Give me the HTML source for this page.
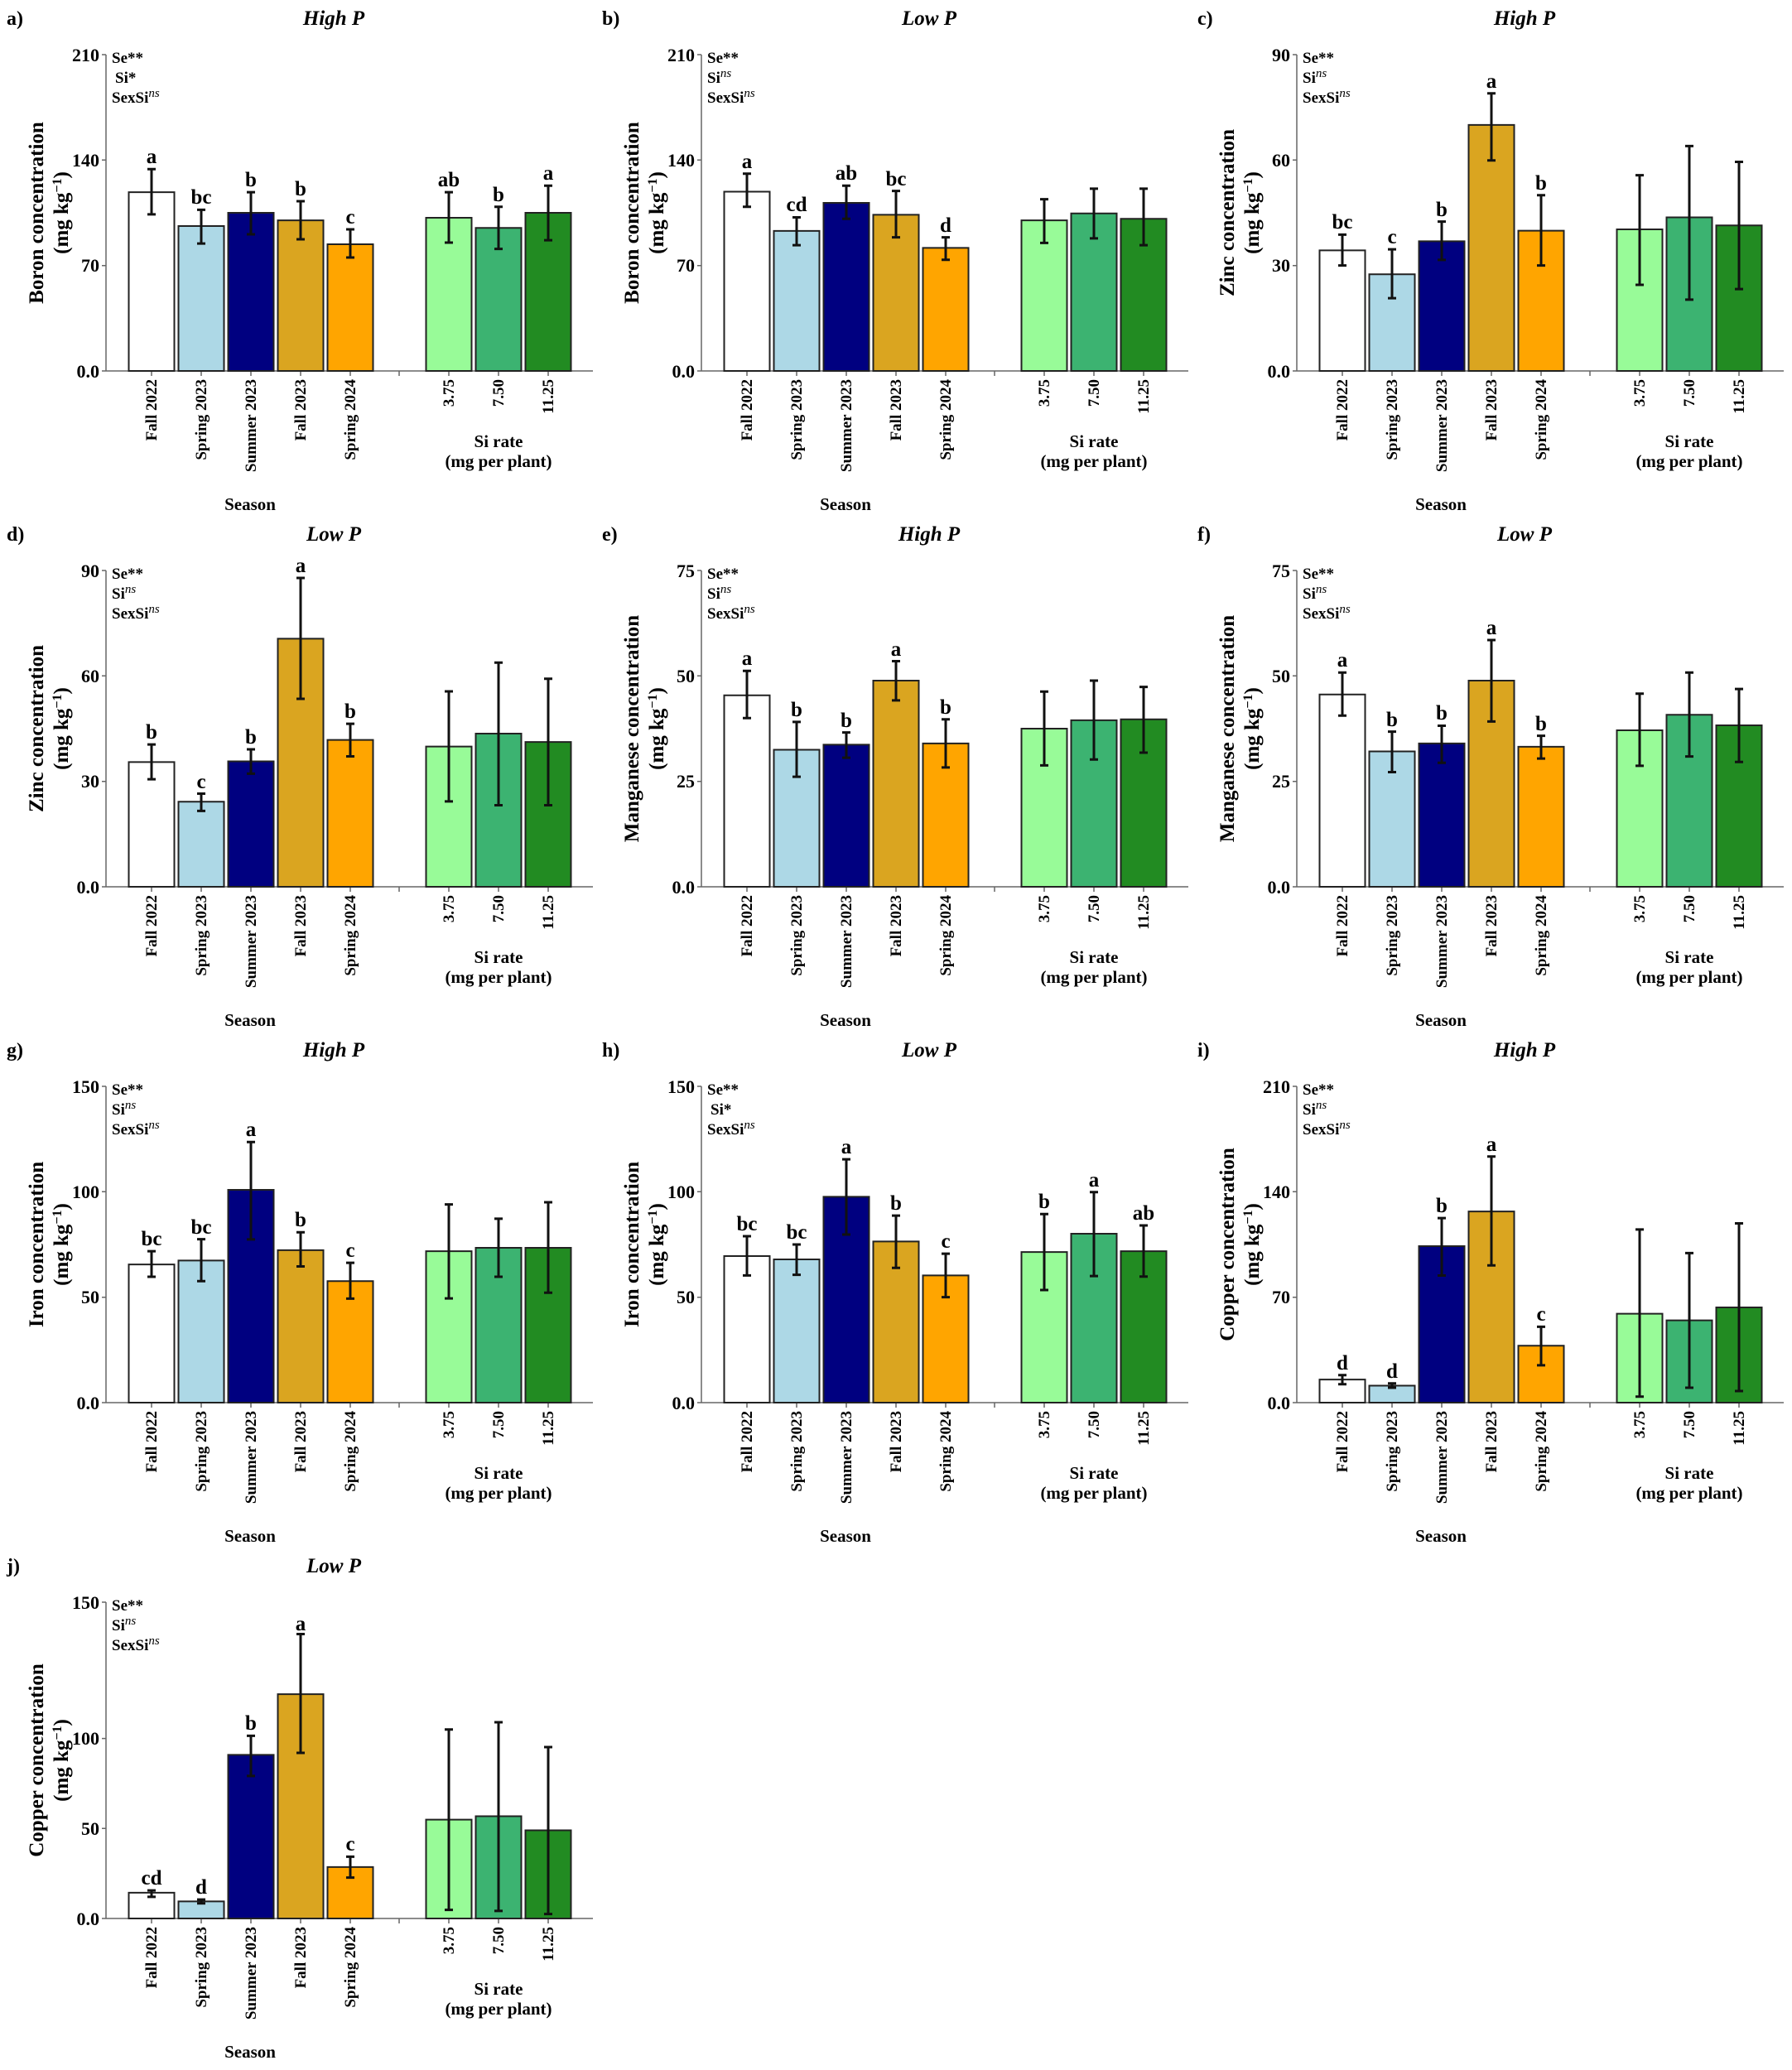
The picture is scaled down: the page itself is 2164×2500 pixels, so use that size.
<!DOCTYPE html>
<html><head><meta charset="utf-8"><style>
html,body{margin:0;padding:0;background:#fff;}
svg{display:block;}
text{font-family:"Liberation Serif",serif;font-weight:bold;fill:#000;}
.pl{font-size:24px;}
.tt{font-size:25px;font-style:italic;text-anchor:middle;}
.yt{font-size:22px;text-anchor:end;}
.xt{font-size:19px;text-anchor:end;}
.lb{font-size:21px;text-anchor:middle;}
.yl{font-size:25px;text-anchor:middle;}
.se{font-size:19px;}
.lt{font-size:25px;text-anchor:middle;}
.ax{stroke:#666;stroke-width:1.5;fill:none;}
.bar{stroke:#222;stroke-width:2;vector-effect:non-scaling-stroke;}
.eb{stroke:#111;stroke-width:3;vector-effect:non-scaling-stroke;fill:none;}
</style></head><body>
<svg width="2164" height="2500" viewBox="0 0 2164 2500" xmlns="http://www.w3.org/2000/svg">

<!-- ============ PANEL a ============ -->
<g transform="translate(0,0)">
<text x="8" y="30" class="pl">a)</text><text x="403" y="30" class="tt">High P</text>
<path class="ax" d="M128 66V448H716M123 66H128M123 193.3H128M123 320.7H128M123 448H128M183 448v6M243 448v6M303 448v6M363 448v6M423 448v6M482 448v6M542 448v6M602 448v6M662 448v6"/>
<text x="120" y="74" class="yt">210</text><text x="120" y="201" class="yt">140</text><text x="120" y="328" class="yt">70</text><text x="120" y="456" class="yt">0.0</text>
<text class="xt" transform="translate(189,458) rotate(-90)">Fall 2022</text><text class="xt" transform="translate(249,458) rotate(-90)">Spring 2023</text><text class="xt" transform="translate(309,458) rotate(-90)">Summer 2023</text><text class="xt" transform="translate(369,458) rotate(-90)">Fall 2023</text><text class="xt" transform="translate(429,458) rotate(-90)">Spring 2024</text><text class="xt" transform="translate(548,458) rotate(-90)">3.75</text><text class="xt" transform="translate(608,458) rotate(-90)">7.50</text><text class="xt" transform="translate(668,458) rotate(-90)">11.25</text>
<text x="602" y="540" class="lb">Si rate</text><text x="602" y="564" class="lb">(mg per plant)</text><text x="302" y="616" class="lb">Season</text>
<text class="yl" transform="translate(52,257) rotate(-90)">Boron concentration</text><text class="yl" transform="translate(82,257) rotate(-90)">(mg kg<tspan dy="-8" font-size="16">−1</tspan><tspan dy="8">)</tspan></text>
<text x="135" y="76" class="se">Se**</text><text x="139" y="100" class="se">Si*</text><text x="135" y="124" class="se">SexSi<tspan font-style="italic" font-weight="normal" font-size="15" dy="-7">ns</tspan></text>
<g transform="translate(0,448) scale(1,-1.819)">
<rect class="bar" x="155.5" y="0" width="55" height="118.7" fill="#ffffff"/><rect class="bar" x="215.5" y="0" width="55" height="96.2" fill="#add8e6"/><rect class="bar" x="275.5" y="0" width="55" height="105" fill="#000080"/><rect class="bar" x="335.5" y="0" width="55" height="100" fill="#daa520"/><rect class="bar" x="395.5" y="0" width="55" height="84.1" fill="#ffa500"/><rect class="bar" x="514.5" y="0" width="55" height="101.7" fill="#98fb98"/><rect class="bar" x="574.5" y="0" width="55" height="95" fill="#3cb371"/><rect class="bar" x="634.5" y="0" width="55" height="105" fill="#228b22"/>
<path class="eb" d="M183 104V134M178 104H188M178 134H188M243 84.6V107M238 84.6H248M238 107H248M303 90.7V118.7M298 90.7H308M298 118.7H308M363 87.4V112.7M358 87.4H368M358 112.7H368M423 75.3V94M418 75.3H428M418 94H428M542 85.2V118.7M537 85.2H547M537 118.7H547M602 81V109M597 81H607M597 109H607M662 86.8V123M657 86.8H667M657 123H667"/>
</g>
<text x="183" y="197" class="lt">a</text><text x="243" y="246" class="lt">bc</text><text x="303" y="225" class="lt">b</text><text x="363" y="236" class="lt">b</text><text x="423" y="270" class="lt">c</text><text x="542" y="225" class="lt">ab</text><text x="602" y="243" class="lt">b</text><text x="662" y="217" class="lt">a</text>
</g>

<!-- ============ PANEL b ============ -->
<g transform="translate(719,0)">
<text x="8" y="30" class="pl">b)</text><text x="403" y="30" class="tt">Low P</text>
<path class="ax" d="M128 66V448H716M123 66H128M123 193.3H128M123 320.7H128M123 448H128M183 448v6M243 448v6M303 448v6M363 448v6M423 448v6M482 448v6M542 448v6M602 448v6M662 448v6"/>
<text x="120" y="74" class="yt">210</text><text x="120" y="201" class="yt">140</text><text x="120" y="328" class="yt">70</text><text x="120" y="456" class="yt">0.0</text>
<text class="xt" transform="translate(189,458) rotate(-90)">Fall 2022</text><text class="xt" transform="translate(249,458) rotate(-90)">Spring 2023</text><text class="xt" transform="translate(309,458) rotate(-90)">Summer 2023</text><text class="xt" transform="translate(369,458) rotate(-90)">Fall 2023</text><text class="xt" transform="translate(429,458) rotate(-90)">Spring 2024</text><text class="xt" transform="translate(548,458) rotate(-90)">3.75</text><text class="xt" transform="translate(608,458) rotate(-90)">7.50</text><text class="xt" transform="translate(668,458) rotate(-90)">11.25</text>
<text x="602" y="540" class="lb">Si rate</text><text x="602" y="564" class="lb">(mg per plant)</text><text x="302" y="616" class="lb">Season</text>
<text class="yl" transform="translate(52,257) rotate(-90)">Boron concentration</text><text class="yl" transform="translate(82,257) rotate(-90)">(mg kg<tspan dy="-8" font-size="16">−1</tspan><tspan dy="8">)</tspan></text>
<text x="135" y="76" class="se">Se**</text><text x="135" y="100" class="se">Si<tspan font-style="italic" font-weight="normal" font-size="15" dy="-7">ns</tspan></text><text x="135" y="124" class="se">SexSi<tspan font-style="italic" font-weight="normal" font-size="15" dy="-7">ns</tspan></text>
<g transform="translate(0,448) scale(1,-1.819)">
<rect class="bar" x="155.5" y="0" width="55" height="119" fill="#ffffff"/><rect class="bar" x="215.5" y="0" width="55" height="93" fill="#add8e6"/><rect class="bar" x="275.5" y="0" width="55" height="111.6" fill="#000080"/><rect class="bar" x="335.5" y="0" width="55" height="103.7" fill="#daa520"/><rect class="bar" x="395.5" y="0" width="55" height="81.7" fill="#ffa500"/><rect class="bar" x="514.5" y="0" width="55" height="100" fill="#98fb98"/><rect class="bar" x="574.5" y="0" width="55" height="104.6" fill="#3cb371"/><rect class="bar" x="634.5" y="0" width="55" height="101" fill="#228b22"/>
<path class="eb" d="M183 109V131M178 109H188M178 131H188M243 83.5V102M238 83.5H248M238 102H248M303 101V123M298 101H308M298 123H308M363 88.7V119.5M358 88.7H368M358 119.5H368M423 73.8V88.7M418 73.8H428M418 88.7H428M542 85V114M537 85H547M537 114H547M602 88V121M597 88H607M597 121H607M662 83.5V121M657 83.5H667M657 121H667"/>
</g>
<text x="183" y="203" class="lt">a</text><text x="243" y="255" class="lt">cd</text><text x="303" y="217" class="lt">ab</text><text x="363" y="224" class="lt">bc</text><text x="423" y="280" class="lt">d</text>
</g>

<!-- ============ PANEL c ============ -->
<g transform="translate(1438,0)">
<text x="8" y="30" class="pl">c)</text><text x="403" y="30" class="tt">High P</text>
<path class="ax" d="M128 66V448H716M123 66H128M123 193.3H128M123 320.7H128M123 448H128M183 448v6M243 448v6M303 448v6M363 448v6M423 448v6M482 448v6M542 448v6M602 448v6M662 448v6"/>
<text x="120" y="74" class="yt">90</text><text x="120" y="201" class="yt">60</text><text x="120" y="328" class="yt">30</text><text x="120" y="456" class="yt">0.0</text>
<text class="xt" transform="translate(189,458) rotate(-90)">Fall 2022</text><text class="xt" transform="translate(249,458) rotate(-90)">Spring 2023</text><text class="xt" transform="translate(309,458) rotate(-90)">Summer 2023</text><text class="xt" transform="translate(369,458) rotate(-90)">Fall 2023</text><text class="xt" transform="translate(429,458) rotate(-90)">Spring 2024</text><text class="xt" transform="translate(548,458) rotate(-90)">3.75</text><text class="xt" transform="translate(608,458) rotate(-90)">7.50</text><text class="xt" transform="translate(668,458) rotate(-90)">11.25</text>
<text x="602" y="540" class="lb">Si rate</text><text x="602" y="564" class="lb">(mg per plant)</text><text x="302" y="616" class="lb">Season</text>
<text class="yl" transform="translate(52,257) rotate(-90)">Zinc concentration</text><text class="yl" transform="translate(82,257) rotate(-90)">(mg kg<tspan dy="-8" font-size="16">−1</tspan><tspan dy="8">)</tspan></text>
<text x="135" y="76" class="se">Se**</text><text x="135" y="100" class="se">Si<tspan font-style="italic" font-weight="normal" font-size="15" dy="-7">ns</tspan></text><text x="135" y="124" class="se">SexSi<tspan font-style="italic" font-weight="normal" font-size="15" dy="-7">ns</tspan></text>
<g transform="translate(0,448) scale(1,-4.244)">
<rect class="bar" x="155.5" y="0" width="55" height="34.3" fill="#ffffff"/><rect class="bar" x="215.5" y="0" width="55" height="27.5" fill="#add8e6"/><rect class="bar" x="275.5" y="0" width="55" height="36.9" fill="#000080"/><rect class="bar" x="335.5" y="0" width="55" height="70" fill="#daa520"/><rect class="bar" x="395.5" y="0" width="55" height="39.9" fill="#ffa500"/><rect class="bar" x="514.5" y="0" width="55" height="40.3" fill="#98fb98"/><rect class="bar" x="574.5" y="0" width="55" height="43.7" fill="#3cb371"/><rect class="bar" x="634.5" y="0" width="55" height="41.4" fill="#228b22"/>
<path class="eb" d="M183 30V38.8M178 30H188M178 38.8H188M243 20.7V34.6M238 20.7H248M238 34.6H248M303 31.6V42.5M298 31.6H308M298 42.5H308M363 59.9V79M358 59.9H368M358 79H368M423 30V50M418 30H428M418 50H428M542 24.5V55.7M537 24.5H547M537 55.7H547M602 20.3V64M597 20.3H607M597 64H607M662 23.3V59.5M657 23.3H667M657 59.5H667"/>
</g>
<text x="183" y="276" class="lt">bc</text><text x="243" y="294" class="lt">c</text><text x="303" y="261" class="lt">b</text><text x="363" y="106" class="lt">a</text><text x="423" y="229" class="lt">b</text>
</g>

<!-- ============ PANEL d ============ -->
<g transform="translate(0,623)">
<text x="8" y="30" class="pl">d)</text><text x="403" y="30" class="tt">Low P</text>
<path class="ax" d="M128 66V448H716M123 66H128M123 193.3H128M123 320.7H128M123 448H128M183 448v6M243 448v6M303 448v6M363 448v6M423 448v6M482 448v6M542 448v6M602 448v6M662 448v6"/>
<text x="120" y="74" class="yt">90</text><text x="120" y="201" class="yt">60</text><text x="120" y="328" class="yt">30</text><text x="120" y="456" class="yt">0.0</text>
<text class="xt" transform="translate(189,458) rotate(-90)">Fall 2022</text><text class="xt" transform="translate(249,458) rotate(-90)">Spring 2023</text><text class="xt" transform="translate(309,458) rotate(-90)">Summer 2023</text><text class="xt" transform="translate(369,458) rotate(-90)">Fall 2023</text><text class="xt" transform="translate(429,458) rotate(-90)">Spring 2024</text><text class="xt" transform="translate(548,458) rotate(-90)">3.75</text><text class="xt" transform="translate(608,458) rotate(-90)">7.50</text><text class="xt" transform="translate(668,458) rotate(-90)">11.25</text>
<text x="602" y="540" class="lb">Si rate</text><text x="602" y="564" class="lb">(mg per plant)</text><text x="302" y="616" class="lb">Season</text>
<text class="yl" transform="translate(52,257) rotate(-90)">Zinc concentration</text><text class="yl" transform="translate(82,257) rotate(-90)">(mg kg<tspan dy="-8" font-size="16">−1</tspan><tspan dy="8">)</tspan></text>
<text x="135" y="76" class="se">Se**</text><text x="135" y="100" class="se">Si<tspan font-style="italic" font-weight="normal" font-size="15" dy="-7">ns</tspan></text><text x="135" y="124" class="se">SexSi<tspan font-style="italic" font-weight="normal" font-size="15" dy="-7">ns</tspan></text>
<g transform="translate(0,448) scale(1,-4.244)">
<rect class="bar" x="155.5" y="0" width="55" height="35.5" fill="#ffffff"/><rect class="bar" x="215.5" y="0" width="55" height="24.2" fill="#add8e6"/><rect class="bar" x="275.5" y="0" width="55" height="35.7" fill="#000080"/><rect class="bar" x="335.5" y="0" width="55" height="70.6" fill="#daa520"/><rect class="bar" x="395.5" y="0" width="55" height="41.8" fill="#ffa500"/><rect class="bar" x="514.5" y="0" width="55" height="39.9" fill="#98fb98"/><rect class="bar" x="574.5" y="0" width="55" height="43.6" fill="#3cb371"/><rect class="bar" x="634.5" y="0" width="55" height="41.2" fill="#228b22"/>
<path class="eb" d="M183 30.6V40.5M178 30.6H188M178 40.5H188M243 21.6V26.5M238 21.6H248M238 26.5H248M303 32.2V39.1M298 32.2H308M298 39.1H308M363 53.5V87.9M358 53.5H368M358 87.9H368M423 37.1V46.4M418 37.1H428M418 46.4H428M542 24.3V55.6M537 24.3H547M537 55.6H547M602 23.2V63.8M597 23.2H607M597 63.8H607M662 23.2V59.2M657 23.2H667M657 59.2H667"/>
</g>
<text x="183" y="269" class="lt">b</text><text x="243" y="329" class="lt">c</text><text x="303" y="275" class="lt">b</text><text x="363" y="68" class="lt">a</text><text x="423" y="244" class="lt">b</text>
</g>

<!-- ============ PANEL e ============ -->
<g transform="translate(719,623)">
<text x="8" y="30" class="pl">e)</text><text x="403" y="30" class="tt">High P</text>
<path class="ax" d="M128 66V448H716M123 66H128M123 193.3H128M123 320.7H128M123 448H128M183 448v6M243 448v6M303 448v6M363 448v6M423 448v6M482 448v6M542 448v6M602 448v6M662 448v6"/>
<text x="120" y="74" class="yt">75</text><text x="120" y="201" class="yt">50</text><text x="120" y="328" class="yt">25</text><text x="120" y="456" class="yt">0.0</text>
<text class="xt" transform="translate(189,458) rotate(-90)">Fall 2022</text><text class="xt" transform="translate(249,458) rotate(-90)">Spring 2023</text><text class="xt" transform="translate(309,458) rotate(-90)">Summer 2023</text><text class="xt" transform="translate(369,458) rotate(-90)">Fall 2023</text><text class="xt" transform="translate(429,458) rotate(-90)">Spring 2024</text><text class="xt" transform="translate(548,458) rotate(-90)">3.75</text><text class="xt" transform="translate(608,458) rotate(-90)">7.50</text><text class="xt" transform="translate(668,458) rotate(-90)">11.25</text>
<text x="602" y="540" class="lb">Si rate</text><text x="602" y="564" class="lb">(mg per plant)</text><text x="302" y="616" class="lb">Season</text>
<text class="yl" transform="translate(52,257) rotate(-90)">Manganese concentration</text><text class="yl" transform="translate(82,257) rotate(-90)">(mg kg<tspan dy="-8" font-size="16">−1</tspan><tspan dy="8">)</tspan></text>
<text x="135" y="76" class="se">Se**</text><text x="135" y="100" class="se">Si<tspan font-style="italic" font-weight="normal" font-size="15" dy="-7">ns</tspan></text><text x="135" y="124" class="se">SexSi<tspan font-style="italic" font-weight="normal" font-size="15" dy="-7">ns</tspan></text>
<g transform="translate(0,448) scale(1,-5.093)">
<rect class="bar" x="155.5" y="0" width="55" height="45.4" fill="#ffffff"/><rect class="bar" x="215.5" y="0" width="55" height="32.5" fill="#add8e6"/><rect class="bar" x="275.5" y="0" width="55" height="33.7" fill="#000080"/><rect class="bar" x="335.5" y="0" width="55" height="48.9" fill="#daa520"/><rect class="bar" x="395.5" y="0" width="55" height="34" fill="#ffa500"/><rect class="bar" x="514.5" y="0" width="55" height="37.5" fill="#98fb98"/><rect class="bar" x="574.5" y="0" width="55" height="39.5" fill="#3cb371"/><rect class="bar" x="634.5" y="0" width="55" height="39.7" fill="#228b22"/>
<path class="eb" d="M183 40V51.2M178 40H188M178 51.2H188M243 26.1V39.1M238 26.1H248M238 39.1H248M303 30.6V36.6M298 30.6H308M298 36.6H308M363 44.2V53.5M358 44.2H368M358 53.5H368M423 28.3V39.7M418 28.3H428M418 39.7H428M542 28.8V46.3M537 28.8H547M537 46.3H547M602 30.2V48.9M597 30.2H607M597 48.9H607M662 31.8V47.4M657 31.8H667M657 47.4H667"/>
</g>
<text x="183" y="180" class="lt">a</text><text x="243" y="242" class="lt">b</text><text x="303" y="255" class="lt">b</text><text x="363" y="169" class="lt">a</text><text x="423" y="239" class="lt">b</text>
</g>

<!-- ============ PANEL f ============ -->
<g transform="translate(1438,623)">
<text x="8" y="30" class="pl">f)</text><text x="403" y="30" class="tt">Low P</text>
<path class="ax" d="M128 66V448H716M123 66H128M123 193.3H128M123 320.7H128M123 448H128M183 448v6M243 448v6M303 448v6M363 448v6M423 448v6M482 448v6M542 448v6M602 448v6M662 448v6"/>
<text x="120" y="74" class="yt">75</text><text x="120" y="201" class="yt">50</text><text x="120" y="328" class="yt">25</text><text x="120" y="456" class="yt">0.0</text>
<text class="xt" transform="translate(189,458) rotate(-90)">Fall 2022</text><text class="xt" transform="translate(249,458) rotate(-90)">Spring 2023</text><text class="xt" transform="translate(309,458) rotate(-90)">Summer 2023</text><text class="xt" transform="translate(369,458) rotate(-90)">Fall 2023</text><text class="xt" transform="translate(429,458) rotate(-90)">Spring 2024</text><text class="xt" transform="translate(548,458) rotate(-90)">3.75</text><text class="xt" transform="translate(608,458) rotate(-90)">7.50</text><text class="xt" transform="translate(668,458) rotate(-90)">11.25</text>
<text x="602" y="540" class="lb">Si rate</text><text x="602" y="564" class="lb">(mg per plant)</text><text x="302" y="616" class="lb">Season</text>
<text class="yl" transform="translate(52,257) rotate(-90)">Manganese concentration</text><text class="yl" transform="translate(82,257) rotate(-90)">(mg kg<tspan dy="-8" font-size="16">−1</tspan><tspan dy="8">)</tspan></text>
<text x="135" y="76" class="se">Se**</text><text x="135" y="100" class="se">Si<tspan font-style="italic" font-weight="normal" font-size="15" dy="-7">ns</tspan></text><text x="135" y="124" class="se">SexSi<tspan font-style="italic" font-weight="normal" font-size="15" dy="-7">ns</tspan></text>
<g transform="translate(0,448) scale(1,-5.093)">
<rect class="bar" x="155.5" y="0" width="55" height="45.6" fill="#ffffff"/><rect class="bar" x="215.5" y="0" width="55" height="32.1" fill="#add8e6"/><rect class="bar" x="275.5" y="0" width="55" height="34" fill="#000080"/><rect class="bar" x="335.5" y="0" width="55" height="48.9" fill="#daa520"/><rect class="bar" x="395.5" y="0" width="55" height="33.2" fill="#ffa500"/><rect class="bar" x="514.5" y="0" width="55" height="37.1" fill="#98fb98"/><rect class="bar" x="574.5" y="0" width="55" height="40.8" fill="#3cb371"/><rect class="bar" x="634.5" y="0" width="55" height="38.3" fill="#228b22"/>
<path class="eb" d="M183 40.6V50.8M178 40.6H188M178 50.8H188M243 27.2V36.8M238 27.2H248M238 36.8H248M303 29.4V38.2M298 29.4H308M298 38.2H308M363 39.2V58.5M358 39.2H368M358 58.5H368M423 30.4V35.8M418 30.4H428M418 35.8H428M542 28.7V45.8M537 28.7H547M537 45.8H547M602 30.9V50.8M597 30.9H607M597 50.8H607M662 29.6V46.9M657 29.6H667M657 46.9H667"/>
</g>
<text x="183" y="182" class="lt">a</text><text x="243" y="254" class="lt">b</text><text x="303" y="246" class="lt">b</text><text x="363" y="143" class="lt">a</text><text x="423" y="259" class="lt">b</text>
</g>

<!-- ============ PANEL g ============ -->
<g transform="translate(0,1246)">
<text x="8" y="30" class="pl">g)</text><text x="403" y="30" class="tt">High P</text>
<path class="ax" d="M128 66V448H716M123 66H128M123 193.3H128M123 320.7H128M123 448H128M183 448v6M243 448v6M303 448v6M363 448v6M423 448v6M482 448v6M542 448v6M602 448v6M662 448v6"/>
<text x="120" y="74" class="yt">150</text><text x="120" y="201" class="yt">100</text><text x="120" y="328" class="yt">50</text><text x="120" y="456" class="yt">0.0</text>
<text class="xt" transform="translate(189,458) rotate(-90)">Fall 2022</text><text class="xt" transform="translate(249,458) rotate(-90)">Spring 2023</text><text class="xt" transform="translate(309,458) rotate(-90)">Summer 2023</text><text class="xt" transform="translate(369,458) rotate(-90)">Fall 2023</text><text class="xt" transform="translate(429,458) rotate(-90)">Spring 2024</text><text class="xt" transform="translate(548,458) rotate(-90)">3.75</text><text class="xt" transform="translate(608,458) rotate(-90)">7.50</text><text class="xt" transform="translate(668,458) rotate(-90)">11.25</text>
<text x="602" y="540" class="lb">Si rate</text><text x="602" y="564" class="lb">(mg per plant)</text><text x="302" y="616" class="lb">Season</text>
<text class="yl" transform="translate(52,257) rotate(-90)">Iron concentration</text><text class="yl" transform="translate(82,257) rotate(-90)">(mg kg<tspan dy="-8" font-size="16">−1</tspan><tspan dy="8">)</tspan></text>
<text x="135" y="76" class="se">Se**</text><text x="135" y="100" class="se">Si<tspan font-style="italic" font-weight="normal" font-size="15" dy="-7">ns</tspan></text><text x="135" y="124" class="se">SexSi<tspan font-style="italic" font-weight="normal" font-size="15" dy="-7">ns</tspan></text>
<g transform="translate(0,448) scale(1,-2.547)">
<rect class="bar" x="155.5" y="0" width="55" height="65.5" fill="#ffffff"/><rect class="bar" x="215.5" y="0" width="55" height="67.4" fill="#add8e6"/><rect class="bar" x="275.5" y="0" width="55" height="100.9" fill="#000080"/><rect class="bar" x="335.5" y="0" width="55" height="72.3" fill="#daa520"/><rect class="bar" x="395.5" y="0" width="55" height="57.6" fill="#ffa500"/><rect class="bar" x="514.5" y="0" width="55" height="71.8" fill="#98fb98"/><rect class="bar" x="574.5" y="0" width="55" height="73.4" fill="#3cb371"/><rect class="bar" x="634.5" y="0" width="55" height="73.4" fill="#228b22"/>
<path class="eb" d="M183 59.7V71.8M178 59.7H188M178 71.8H188M243 57.6V77.5M238 57.6H248M238 77.5H248M303 77.4V123.6M298 77.4H308M298 123.6H308M363 64.6V80.8M358 64.6H368M358 80.8H368M423 49.3V66.3M418 49.3H428M418 66.3H428M542 49.4V94M537 49.4H547M537 94H547M602 59.7V87.2M597 59.7H607M597 87.2H607M662 52.1V95M657 52.1H667M657 95H667"/>
</g>
<text x="183" y="258" class="lt">bc</text><text x="243" y="244" class="lt">bc</text><text x="303" y="126" class="lt">a</text><text x="363" y="235" class="lt">b</text><text x="423" y="272" class="lt">c</text>
</g>

<!-- ============ PANEL h ============ -->
<g transform="translate(719,1246)">
<text x="8" y="30" class="pl">h)</text><text x="403" y="30" class="tt">Low P</text>
<path class="ax" d="M128 66V448H716M123 66H128M123 193.3H128M123 320.7H128M123 448H128M183 448v6M243 448v6M303 448v6M363 448v6M423 448v6M482 448v6M542 448v6M602 448v6M662 448v6"/>
<text x="120" y="74" class="yt">150</text><text x="120" y="201" class="yt">100</text><text x="120" y="328" class="yt">50</text><text x="120" y="456" class="yt">0.0</text>
<text class="xt" transform="translate(189,458) rotate(-90)">Fall 2022</text><text class="xt" transform="translate(249,458) rotate(-90)">Spring 2023</text><text class="xt" transform="translate(309,458) rotate(-90)">Summer 2023</text><text class="xt" transform="translate(369,458) rotate(-90)">Fall 2023</text><text class="xt" transform="translate(429,458) rotate(-90)">Spring 2024</text><text class="xt" transform="translate(548,458) rotate(-90)">3.75</text><text class="xt" transform="translate(608,458) rotate(-90)">7.50</text><text class="xt" transform="translate(668,458) rotate(-90)">11.25</text>
<text x="602" y="540" class="lb">Si rate</text><text x="602" y="564" class="lb">(mg per plant)</text><text x="302" y="616" class="lb">Season</text>
<text class="yl" transform="translate(52,257) rotate(-90)">Iron concentration</text><text class="yl" transform="translate(82,257) rotate(-90)">(mg kg<tspan dy="-8" font-size="16">−1</tspan><tspan dy="8">)</tspan></text>
<text x="135" y="76" class="se">Se**</text><text x="139" y="100" class="se">Si*</text><text x="135" y="124" class="se">SexSi<tspan font-style="italic" font-weight="normal" font-size="15" dy="-7">ns</tspan></text>
<g transform="translate(0,448) scale(1,-2.547)">
<rect class="bar" x="155.5" y="0" width="55" height="69.5" fill="#ffffff"/><rect class="bar" x="215.5" y="0" width="55" height="67.9" fill="#add8e6"/><rect class="bar" x="275.5" y="0" width="55" height="97.6" fill="#000080"/><rect class="bar" x="335.5" y="0" width="55" height="76.4" fill="#daa520"/><rect class="bar" x="395.5" y="0" width="55" height="60.3" fill="#ffa500"/><rect class="bar" x="514.5" y="0" width="55" height="71.4" fill="#98fb98"/><rect class="bar" x="574.5" y="0" width="55" height="80.1" fill="#3cb371"/><rect class="bar" x="634.5" y="0" width="55" height="71.8" fill="#228b22"/>
<path class="eb" d="M183 60.3V78.9M178 60.3H188M178 78.9H188M243 60.6V75M238 60.6H248M238 75H248M303 79.7V115.4M298 79.7H308M298 115.4H308M363 63.9V88.7M358 63.9H368M358 88.7H368M423 50V70.6M418 50H428M418 70.6H428M542 53.4V89.4M537 53.4H547M537 89.4H547M602 60V99.8M597 60H607M597 99.8H607M662 59.8V84M657 59.8H667M657 84H667"/>
</g>
<text x="183" y="240" class="lt">bc</text><text x="243" y="250" class="lt">bc</text><text x="303" y="147" class="lt">a</text><text x="363" y="215" class="lt">b</text><text x="423" y="261" class="lt">c</text><text x="542" y="213" class="lt">b</text><text x="602" y="187" class="lt">a</text><text x="662" y="227" class="lt">ab</text>
</g>

<!-- ============ PANEL i ============ -->
<g transform="translate(1438,1246)">
<text x="8" y="30" class="pl">i)</text><text x="403" y="30" class="tt">High P</text>
<path class="ax" d="M128 66V448H716M123 66H128M123 193.3H128M123 320.7H128M123 448H128M183 448v6M243 448v6M303 448v6M363 448v6M423 448v6M482 448v6M542 448v6M602 448v6M662 448v6"/>
<text x="120" y="74" class="yt">210</text><text x="120" y="201" class="yt">140</text><text x="120" y="328" class="yt">70</text><text x="120" y="456" class="yt">0.0</text>
<text class="xt" transform="translate(189,458) rotate(-90)">Fall 2022</text><text class="xt" transform="translate(249,458) rotate(-90)">Spring 2023</text><text class="xt" transform="translate(309,458) rotate(-90)">Summer 2023</text><text class="xt" transform="translate(369,458) rotate(-90)">Fall 2023</text><text class="xt" transform="translate(429,458) rotate(-90)">Spring 2024</text><text class="xt" transform="translate(548,458) rotate(-90)">3.75</text><text class="xt" transform="translate(608,458) rotate(-90)">7.50</text><text class="xt" transform="translate(668,458) rotate(-90)">11.25</text>
<text x="602" y="540" class="lb">Si rate</text><text x="602" y="564" class="lb">(mg per plant)</text><text x="302" y="616" class="lb">Season</text>
<text class="yl" transform="translate(52,257) rotate(-90)">Copper concentration</text><text class="yl" transform="translate(82,257) rotate(-90)">(mg kg<tspan dy="-8" font-size="16">−1</tspan><tspan dy="8">)</tspan></text>
<text x="135" y="76" class="se">Se**</text><text x="135" y="100" class="se">Si<tspan font-style="italic" font-weight="normal" font-size="15" dy="-7">ns</tspan></text><text x="135" y="124" class="se">SexSi<tspan font-style="italic" font-weight="normal" font-size="15" dy="-7">ns</tspan></text>
<g transform="translate(0,448) scale(1,-1.819)">
<rect class="bar" x="155.5" y="0" width="55" height="15.3" fill="#ffffff"/><rect class="bar" x="215.5" y="0" width="55" height="11.3" fill="#add8e6"/><rect class="bar" x="275.5" y="0" width="55" height="103.9" fill="#000080"/><rect class="bar" x="335.5" y="0" width="55" height="126.9" fill="#daa520"/><rect class="bar" x="395.5" y="0" width="55" height="37.8" fill="#ffa500"/><rect class="bar" x="514.5" y="0" width="55" height="59" fill="#98fb98"/><rect class="bar" x="574.5" y="0" width="55" height="54.6" fill="#3cb371"/><rect class="bar" x="634.5" y="0" width="55" height="63.2" fill="#228b22"/>
<path class="eb" d="M183 12.2V18.3M178 12.2H188M178 18.3H188M243 9.9V12.8M238 9.9H248M238 12.8H248M303 84.4V122.5M298 84.4H308M298 122.5H308M363 91.1V163.4M358 91.1H368M358 163.4H368M423 24.8V50.4M418 24.8H428M418 50.4H428M542 4V115M537 4H547M537 115H547M602 9.9V99.3M597 9.9H607M597 99.3H607M662 7.7V119M657 7.7H667M657 119H667"/>
</g>
<text x="183" y="408" class="lt">d</text><text x="243" y="418" class="lt">d</text><text x="303" y="218" class="lt">b</text><text x="363" y="144" class="lt">a</text><text x="423" y="349" class="lt">c</text>
</g>

<!-- ============ PANEL j ============ -->
<g transform="translate(0,1869)">
<text x="8" y="30" class="pl">j)</text><text x="403" y="30" class="tt">Low P</text>
<path class="ax" d="M128 66V448H716M123 66H128M123 230.6H128M123 339.3H128M123 448H128M183 448v6M243 448v6M303 448v6M363 448v6M423 448v6M482 448v6M542 448v6M602 448v6M662 448v6"/>
<text x="120" y="74" class="yt">150</text><text x="120" y="238" class="yt">100</text><text x="120" y="347" class="yt">50</text><text x="120" y="456" class="yt">0.0</text>
<text class="xt" transform="translate(189,458) rotate(-90)">Fall 2022</text><text class="xt" transform="translate(249,458) rotate(-90)">Spring 2023</text><text class="xt" transform="translate(309,458) rotate(-90)">Summer 2023</text><text class="xt" transform="translate(369,458) rotate(-90)">Fall 2023</text><text class="xt" transform="translate(429,458) rotate(-90)">Spring 2024</text><text class="xt" transform="translate(548,458) rotate(-90)">3.75</text><text class="xt" transform="translate(608,458) rotate(-90)">7.50</text><text class="xt" transform="translate(668,458) rotate(-90)">11.25</text>
<text x="602" y="540" class="lb">Si rate</text><text x="602" y="564" class="lb">(mg per plant)</text><text x="302" y="616" class="lb">Season</text>
<text class="yl" transform="translate(52,257) rotate(-90)">Copper concentration</text><text class="yl" transform="translate(82,257) rotate(-90)">(mg kg<tspan dy="-8" font-size="16">−1</tspan><tspan dy="8">)</tspan></text>
<text x="135" y="76" class="se">Se**</text><text x="135" y="100" class="se">Si<tspan font-style="italic" font-weight="normal" font-size="15" dy="-7">ns</tspan></text><text x="135" y="124" class="se">SexSi<tspan font-style="italic" font-weight="normal" font-size="15" dy="-7">ns</tspan></text>
<g transform="translate(0,448) scale(1,-2.174)">
<rect class="bar" x="155.5" y="0" width="55" height="14.3" fill="#ffffff"/><rect class="bar" x="215.5" y="0" width="55" height="9.5" fill="#add8e6"/><rect class="bar" x="275.5" y="0" width="55" height="90.9" fill="#000080"/><rect class="bar" x="335.5" y="0" width="55" height="124.6" fill="#daa520"/><rect class="bar" x="395.5" y="0" width="55" height="28.6" fill="#ffa500"/><rect class="bar" x="514.5" y="0" width="55" height="54.9" fill="#98fb98"/><rect class="bar" x="574.5" y="0" width="55" height="56.8" fill="#3cb371"/><rect class="bar" x="634.5" y="0" width="55" height="49" fill="#228b22"/>
<path class="eb" d="M183 12V15.6M178 12H188M178 15.6H188M243 8.4V10.5M238 8.4H248M238 10.5H248M303 79.2V101.5M298 79.2H308M298 101.5H308M363 92V158M358 92H368M358 158H368M423 22.7V34.3M418 22.7H428M418 34.3H428M542 4.8V105M537 4.8H547M537 105H547M602 4.2V109M597 4.2H607M597 109H607M662 2.5V95.2M657 2.5H667M657 95.2H667"/>
</g>
<text x="183" y="407" class="lt">cd</text><text x="243" y="418" class="lt">d</text><text x="303" y="220" class="lt">b</text><text x="363" y="100" class="lt">a</text><text x="423" y="366" class="lt">c</text>
</g>

</svg>
</body></html>
